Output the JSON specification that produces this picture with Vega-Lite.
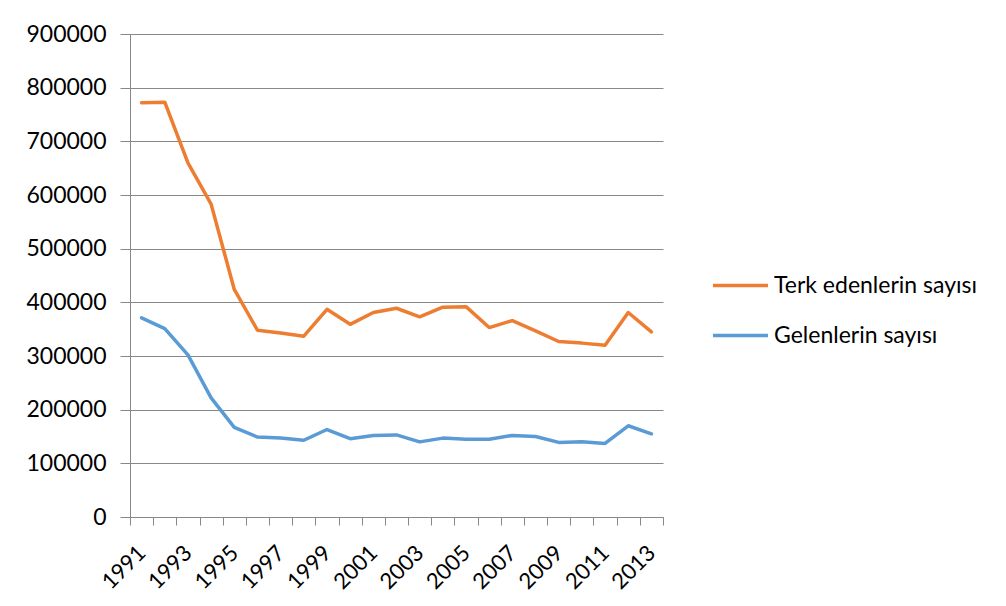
{
  "$schema": "https://vega.github.io/schema/vega-lite/v6.json",
  "width": 533,
  "height": 483,
  "autosize": {"type": "none"},
  "padding": {"left": 130, "top": 34, "right": 343, "bottom": 89},
  "background": "white",
  "config": {"view": {"stroke": null}, "font": "Lato"},
  "data": {
    "values": [
      {"year": 1991, "series": "Terk edenlerin sayısı", "value": 772000},
      {"year": 1992, "series": "Terk edenlerin sayısı", "value": 773000},
      {"year": 1993, "series": "Terk edenlerin sayısı", "value": 660000},
      {"year": 1994, "series": "Terk edenlerin sayısı", "value": 583000},
      {"year": 1995, "series": "Terk edenlerin sayısı", "value": 424000},
      {"year": 1996, "series": "Terk edenlerin sayısı", "value": 348000},
      {"year": 1997, "series": "Terk edenlerin sayısı", "value": 343000},
      {"year": 1998, "series": "Terk edenlerin sayısı", "value": 337000},
      {"year": 1999, "series": "Terk edenlerin sayısı", "value": 387000},
      {"year": 2000, "series": "Terk edenlerin sayısı", "value": 359000},
      {"year": 2001, "series": "Terk edenlerin sayısı", "value": 381000},
      {"year": 2002, "series": "Terk edenlerin sayısı", "value": 389000},
      {"year": 2003, "series": "Terk edenlerin sayısı", "value": 373000},
      {"year": 2004, "series": "Terk edenlerin sayısı", "value": 391000},
      {"year": 2005, "series": "Terk edenlerin sayısı", "value": 392000},
      {"year": 2006, "series": "Terk edenlerin sayısı", "value": 353000},
      {"year": 2007, "series": "Terk edenlerin sayısı", "value": 366000},
      {"year": 2008, "series": "Terk edenlerin sayısı", "value": 347000},
      {"year": 2009, "series": "Terk edenlerin sayısı", "value": 327000},
      {"year": 2010, "series": "Terk edenlerin sayısı", "value": 324000},
      {"year": 2011, "series": "Terk edenlerin sayısı", "value": 320000},
      {"year": 2012, "series": "Terk edenlerin sayısı", "value": 381000},
      {"year": 2013, "series": "Terk edenlerin sayısı", "value": 345000},
      {"year": 1991, "series": "Gelenlerin sayısı", "value": 371000},
      {"year": 1992, "series": "Gelenlerin sayısı", "value": 351000},
      {"year": 1993, "series": "Gelenlerin sayısı", "value": 302000},
      {"year": 1994, "series": "Gelenlerin sayısı", "value": 222000},
      {"year": 1995, "series": "Gelenlerin sayısı", "value": 167000},
      {"year": 1996, "series": "Gelenlerin sayısı", "value": 149000},
      {"year": 1997, "series": "Gelenlerin sayısı", "value": 147000},
      {"year": 1998, "series": "Gelenlerin sayısı", "value": 143000},
      {"year": 1999, "series": "Gelenlerin sayısı", "value": 163000},
      {"year": 2000, "series": "Gelenlerin sayısı", "value": 146000},
      {"year": 2001, "series": "Gelenlerin sayısı", "value": 152000},
      {"year": 2002, "series": "Gelenlerin sayısı", "value": 153000},
      {"year": 2003, "series": "Gelenlerin sayısı", "value": 140000},
      {"year": 2004, "series": "Gelenlerin sayısı", "value": 147000},
      {"year": 2005, "series": "Gelenlerin sayısı", "value": 145000},
      {"year": 2006, "series": "Gelenlerin sayısı", "value": 145000},
      {"year": 2007, "series": "Gelenlerin sayısı", "value": 152000},
      {"year": 2008, "series": "Gelenlerin sayısı", "value": 150000},
      {"year": 2009, "series": "Gelenlerin sayısı", "value": 139000},
      {"year": 2010, "series": "Gelenlerin sayısı", "value": 140000},
      {"year": 2011, "series": "Gelenlerin sayısı", "value": 137000},
      {"year": 2012, "series": "Gelenlerin sayısı", "value": 170000},
      {"year": 2013, "series": "Gelenlerin sayısı", "value": 155000}
    ]
  },
  "mark": {"type": "line", "strokeWidth": 3.5, "strokeCap": "round", "strokeJoin": "round"},
  "encoding": {
    "x": {
      "field": "year",
      "type": "ordinal",
      "bandPosition": 0.5,
      "scale": {"type": "band", "paddingInner": 0, "paddingOuter": 0},
      "axis": {
        "title": null,
        "labelExpr": "datum.value % 2 === 1 ? datum.label : ''",
        "labelAngle": -45,
        "labelAlign": "right",
        "labelBaseline": "middle",
        "labelFontSize": 22,
        "labelColor": "#000000",
        "labelPadding": 24,
        "tickBand": "extent",
        "tickSize": 8,
        "tickColor": "#888888",
        "domainColor": "#888888",
        "grid": false
      }
    },
    "y": {
      "field": "value",
      "type": "quantitative",
      "scale": {"domain": [0, 900000], "nice": false},
      "axis": {
        "title": null,
        "values": [0, 100000, 200000, 300000, 400000, 500000, 600000, 700000, 800000, 900000],
        "format": "d",
        "labelFontSize": 23,
        "labelColor": "#000000",
        "labelPadding": 14,
        "tickSize": 10,
        "tickColor": "#888888",
        "domainColor": "#888888",
        "gridColor": "#888888",
        "gridWidth": 1
      }
    },
    "color": {
      "field": "series",
      "type": "nominal",
      "scale": {"domain": ["Terk edenlerin sayısı", "Gelenlerin sayısı"], "range": ["#ED7D31", "#5B9BD5"]},
      "legend": {
        "title": null,
        "orient": "none",
        "legendX": 581,
        "legendY": 222,
        "symbolType": "stroke",
        "symbolStrokeWidth": 3.5,
        "symbolSize": 3025,
        "labelFontSize": 23,
        "labelLimit": 0,
        "labelColor": "#000000",
        "labelOffset": 4,
        "rowPadding": 8
      }
    }
  }
}
